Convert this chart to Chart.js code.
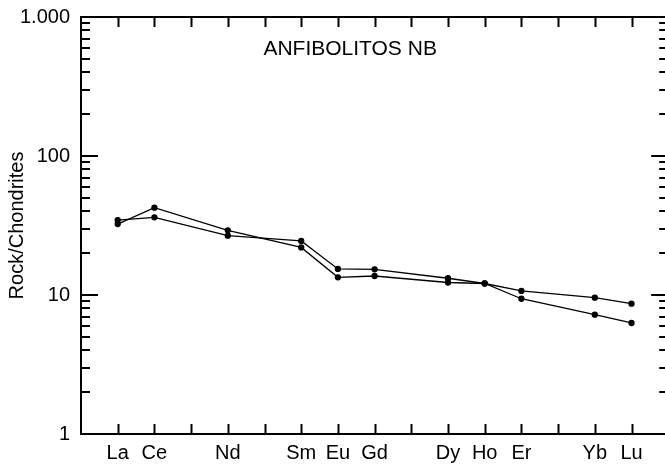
<!DOCTYPE html>
<html>
<head>
<meta charset="utf-8">
<script src="https://cdn.jsdelivr.net/npm/chart.js@4/dist/chart.umd.min.js"></script>
<style>
  html, body { margin: 0; padding: 0; background: #fff; overflow: hidden; }
  #wrap { width: 672px; height: 464px; }
</style>
</head>
<body>
<div id="wrap"><canvas id="chart" width="672" height="464"></canvas></div>
<script>
// elementos terras raras, na ordem do diagrama (Pr, Pm, Tb, Tm sem dado)
const elements = ['La','Ce','Pr','Nd','Pm','Sm','Eu','Gd','Tb','Dy','Ho','Er','Tm','Yb','Lu'];
const xTickLabels = ['La','Ce','','Nd','','Sm','Eu','Gd','','Dy','Ho','Er','','Yb','Lu'];

// valores normalizados ao condrito
const sampleA = [32.4, 42.5, null, 29.2, null, 22.0, 13.4, 13.7, null, 12.3, 12.1, 9.4, null, 7.22, 6.29];
const sampleB = [34.6, 36.2, null, 26.7, null, 24.5, 15.4, 15.3, null, 13.2, 12.1, 10.7, null, 9.56, 8.66];

const yTickValues = [1, 10, 100, 1000];
const yTickLabels = ['1', '10', '100', '1.000'];

const chartTitle = 'ANFIBOLITOS NB';
const yTitle = 'Rock/Chondrites';

const FONT = "Arial, 'Liberation Sans', sans-serif";

function toPoints(arr) {
  return arr.map((v, i) => ({ x: i, y: v }));
}

/*------------ moldura, ticks internos e titulo ------------*/
const framePlugin = {
  id: 'frame',
  afterDraw(chart) {
    const ctx = chart.ctx;
    const a = chart.chartArea;
    const xs = chart.scales.x;
    const ys = chart.scales.y;
    ctx.save();
    ctx.strokeStyle = '#000';
    ctx.lineWidth = 2;

    // ticks do eixo x (baixo e cima)
    ctx.beginPath();
    elements.forEach((el, i) => {
      const px = Math.round(xs.getPixelForValue(i)) + 0.5;
      ctx.moveTo(px, a.bottom); ctx.lineTo(px, a.bottom - 10);
      ctx.moveTo(px, a.top); ctx.lineTo(px, a.top + 10);
    });
    // ticks do eixo y (log, maiores e menores)
    for (let d = 1; d < 1000; d *= 10) {
      for (let m = 1; m < 10; m++) {
        const v = d * m;
        const py = Math.round(ys.getPixelForValue(v));
        const len = m === 1 ? 17 : 9;
        ctx.moveTo(a.left, py); ctx.lineTo(a.left + len, py);
        ctx.moveTo(a.right, py); ctx.lineTo(a.right - len, py);
      }
    }
    const pTop = Math.round(ys.getPixelForValue(1000));
    ctx.moveTo(a.left, pTop); ctx.lineTo(a.left + 17, pTop);
    ctx.moveTo(a.right, pTop); ctx.lineTo(a.right - 17, pTop);
    ctx.stroke();

    ctx.strokeRect(a.left, a.top, a.right - a.left, a.bottom - a.top);

    ctx.fillStyle = '#000';
    ctx.font = '21px ' + FONT;
    ctx.textAlign = 'left';
    ctx.textBaseline = 'middle';
    ctx.fillText(chartTitle, xs.getPixelForValue(3.97), a.top + 32);
    ctx.restore();
  }
};

function makeDataset(arr) {
  return {
    data: toPoints(arr),
    borderColor: '#000',
    backgroundColor: '#000',
    borderWidth: 1.3,
    pointRadius: 2.5,
    pointHoverRadius: 2.5,
    spanGaps: true,
    tension: 0
  };
}

new Chart(document.getElementById('chart'), {
  type: 'line',
  data: {
    datasets: [makeDataset(sampleA), makeDataset(sampleB)]
  },
  options: {
    responsive: false,
    animation: false,
    devicePixelRatio: 1,
    layout: { padding: { top: 17, right: 3, left: 0, bottom: 0 } },
    plugins: { legend: { display: false }, tooltip: { enabled: false } },
    scales: {
      x: {
        type: 'linear',
        min: -1,
        max: 15,
        grid: { display: false, drawTicks: false },
        border: { display: false },
        afterBuildTicks: s => { s.ticks = elements.map((e, i) => ({ value: i })); },
        afterFit: s => { s.height = 30; s.paddingLeft = 0; s.paddingRight = 0; },
        ticks: {
          autoSkip: false,
          maxRotation: 0,
          padding: 7,
          color: '#000',
          font: { size: 20, family: FONT },
          callback: v => xTickLabels[v] ?? ''
        }
      },
      y: {
        type: 'logarithmic',
        min: 1,
        max: 1000,
        grid: { display: false, drawTicks: false },
        border: { display: false },
        afterBuildTicks: s => { s.ticks = yTickValues.map(v => ({ value: v })); },
        afterFit: s => { s.width = 81; s.paddingTop = 0; s.paddingBottom = 0; },
        ticks: {
          padding: 11,
          color: '#000',
          font: { size: 20, family: FONT },
          callback: v => yTickLabels[yTickValues.indexOf(v)] ?? ''
        },
        title: {
          display: true,
          text: yTitle,
          color: '#000',
          font: { size: 20, family: FONT },
          padding: { top: 5, bottom: 0 }
        }
      }
    }
  },
  plugins: [framePlugin]
});
</script>
</body>
</html>
